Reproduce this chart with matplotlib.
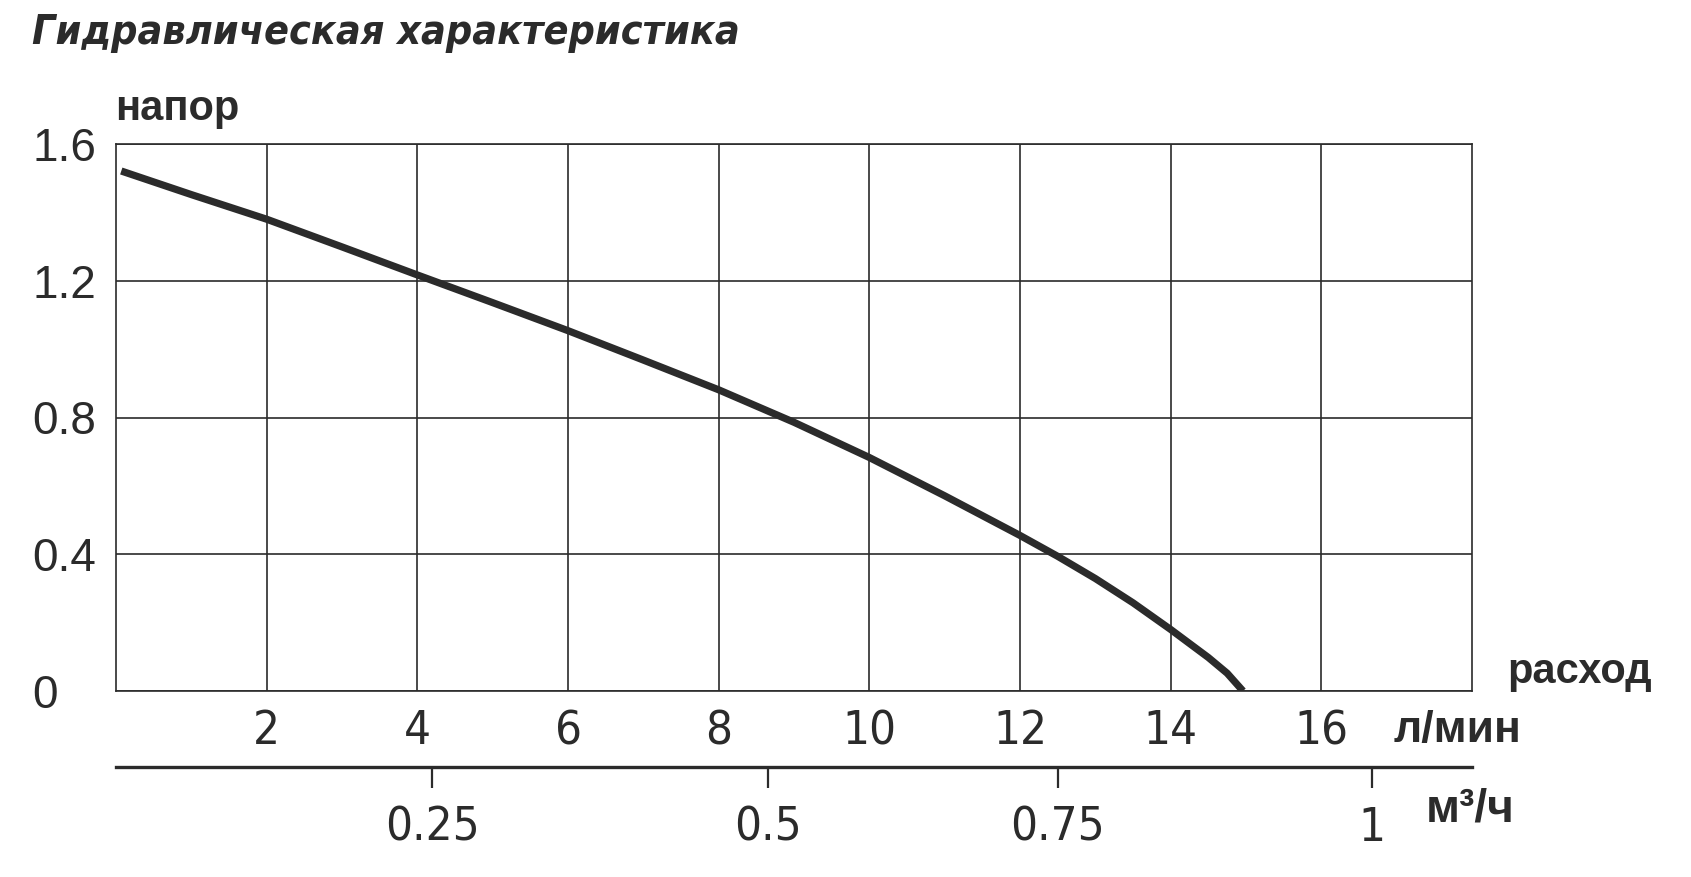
import matplotlib.pyplot as plt

# расход, л/мин  ->  напор
flow_lpm = [0.07, 1, 2, 3, 4, 5, 6, 7, 8, 9, 10, 11, 12, 12.5, 13, 13.5, 14, 14.5, 14.75, 14.96]
head = [1.521, 1.452, 1.380, 1.299, 1.217, 1.136, 1.054, 0.968, 0.881, 0.786,
        0.683, 0.571, 0.455, 0.394, 0.329, 0.258, 0.180, 0.098, 0.052, 0.0]

x_ticks = [2, 4, 6, 8, 10, 12, 14, 16]
y_ticks = [0, 0.4, 0.8, 1.2, 1.6]
y_labels = ['0', '0.4', '0.8', '1.2', '1.6']
# положения делений м³/ч на шкале л/мин (как на рисунке)
m3h_pos = [4.2, 8.65, 12.5, 16.67]
m3h_labels = ['0.25', '0.5', '0.75', '1']

NARROW = ['Liberation Sans Narrow', 'DejaVu Sans']
SANS = ['Liberation Sans', 'DejaVu Sans']
plt.rcParams['font.family'] = SANS
INK = '#2b2b2b'

W, H = 1691, 877
fig = plt.figure(figsize=(W / 100, H / 100), dpi=100)
ax = fig.add_axes([116 / W, 1 - 691 / H, (1472 - 116) / W, (691 - 144) / H])

ax.plot(flow_lpm, head, color=INK, lw=5.2, solid_capstyle='butt', solid_joinstyle='round')
ax.set_xlim(0, 18)
ax.set_ylim(0, 1.6)
ax.set_xticks(x_ticks)
ax.set_xticklabels([str(v) for v in x_ticks], fontsize=34, family=NARROW,
                   stretch='condensed', color=INK)
ax.set_yticks(y_ticks)
ax.set_yticklabels(y_labels, fontsize=33, color=INK)
for lb in ax.get_yticklabels():
    lb.set_horizontalalignment('left')
ax.tick_params(axis='x', length=0, pad=13)
ax.tick_params(axis='y', length=0, pad=60)
ax.grid(True, color=INK, lw=1.2)
ax.set_axisbelow(True)
for s in ax.spines.values():
    s.set_color(INK)
    s.set_linewidth(1.2)

# шкала м³/ч
sec = ax.secondary_xaxis(-(767 - 691) / (691 - 144))
sec.spines['bottom'].set_linewidth(2.4)
sec.spines['bottom'].set_color(INK)
sec.set_xticks(m3h_pos)
sec.set_xticklabels(m3h_labels, fontsize=34, family=NARROW, stretch='condensed', color=INK)
sec.tick_params(length=15, width=1.6, color=INK, pad=13)

fig.text(32 / W, 1 - 44 / H, 'Гидравлическая характеристика', fontsize=29.5,
         family=NARROW, stretch='condensed', weight='bold', style='italic',
         color=INK, va='baseline')
fig.text(115 / W, 1 - 120 / H, 'напор', fontsize=30, weight='bold', color=INK, va='baseline')
fig.text(1507 / W, 1 - 683 / H, 'расход', fontsize=30, weight='bold', color=INK, va='baseline')
fig.text(1394 / W, 1 - 742 / H, 'л/мин', fontsize=32, weight='bold', color=INK, va='baseline')
fig.text(1426 / W, 1 - 822 / H, 'м³/ч', fontsize=33, weight='bold', color=INK, va='baseline')

fig.savefig('out.png', dpi=100)
